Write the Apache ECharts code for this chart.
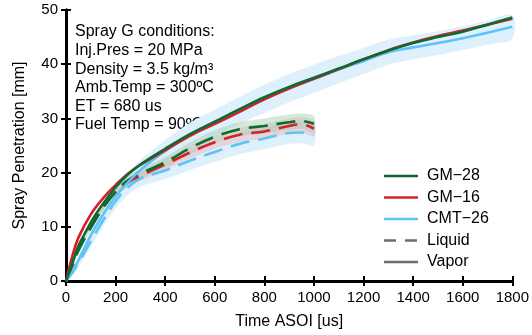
<!DOCTYPE html>
<html>
<head>
<meta charset="utf-8">
<script src="https://cdn.jsdelivr.net/npm/echarts@6/dist/echarts.min.js"></script>
<style>html,body{margin:0;padding:0;background:#fff}#c{width:532px;height:335px}</style>
</head>
<body>
<div id="c"></div>
<script>
const vaporTimes = [0,25,50,100,150,200,250,300,400,500,600,700,800,900,1000,1100,1200,1300,1400,1500,1600,1700,1800];
const gm28Vapor = [0,3.2,6.3,10.8,14.3,17.3,19.7,21.5,24.4,27.1,29.4,31.7,33.9,35.8,37.5,39.2,40.9,42.5,43.9,45.0,46.0,47.3,48.6];
const gm16Vapor = [0,4.5,8.0,12.3,15.3,17.7,19.8,21.4,24.1,26.8,29.0,31.2,33.5,35.5,37.3,39.1,40.9,42.6,44.0,45.2,46.2,47.3,48.4];
const cmtVapor  = [0,1.6,3.8,8.4,12.3,15.6,18.2,20.5,24.0,27.0,29.2,31.5,33.6,35.6,37.3,39.0,40.6,42.2,43.1,43.9,44.8,45.8,46.9];
const cmtVaporSpread = [0,0.5,0.8,1.0,1.2,1.4,1.6,1.8,2.0,2.2,2.4,2.5,2.6,2.6,2.6,2.5,2.4,2.3,2.2,2.2,2.2,2.2,2.2];

const liquidTimes = [0,25,50,100,150,200,250,300,400,500,600,700,800,900,950,1000];
const gm28Liquid = [0,2.7,5.6,9.8,13.5,16.5,18.6,19.8,21.9,24.5,26.6,28.0,28.6,29.3,29.5,29.0];
const gm16Liquid = [0,3.2,6.5,10.3,13.8,16.3,18.2,19.4,21.5,23.7,25.6,27.0,27.6,28.6,28.9,28.1];
const cmtLiquid  = [0,1.5,3.3,7.3,11.2,14.7,17.3,18.9,20.4,22.2,23.8,25.3,26.3,27.3,27.4,27.1];
const liquidSpread = [0,0.3,0.4,0.5,0.6,0.7,0.8,0.9,1.0,1.1,1.2,1.3,1.4,1.4,1.4,1.4];
const cmtLiquidSpread = [0,0.5,0.8,1.0,1.2,1.3,1.4,1.5,1.6,1.7,1.8,1.9,2.0,2.0,2.0,2.0];

const xTicks = [0,200,400,600,800,1000,1200,1400,1600,1800];
const yTicks = [0,10,20,30,40,50];
const conditions = ['Spray G conditions:','Inj.Pres = 20 MPa','Density = 3.5 kg/m\u00B3','Amb.Temp = 300\u00BAC','ET = 680 us','Fuel Temp = 90\u00BAC'];
const legendNames = ['GM\u221228','GM\u221216','CMT\u221226','Liquid','Vapor'];

const FONT = 'Liberation Sans, Arial, Helvetica, sans-serif';
const GREEN = '#0d6b30', RED = '#d2202c', BLUE = '#5ec3f7', GRAY = '#6e6e6e';
const legendColors = [GREEN, RED, BLUE, GRAY, GRAY];
const legendDashed = [false, false, false, true, false];

function pairs(ts, vs){ return ts.slice(0, vs.length).map((t,i)=>[t, vs[i]]); }

function band(ts, mid, spread, color){
  return {
    type: 'custom', silent: true, z: 1, xAxisIndex: 0, yAxisIndex: 0,
    data: [[ts[0], mid[0]]],
    renderItem: function(params, api){
      const up = [], lo = [];
      for (let i = 0; i < spread.length; i++){
        up.push(api.coord([ts[i], mid[i] + spread[i]]));
        lo.push(api.coord([ts[i], mid[i] - spread[i]]));
      }
      const pts = up.concat(lo.reverse());
      return { type: 'polygon', shape: { points: pts, smooth: 0.3 }, style: { fill: color } };
    }
  };
}

function line(name, data, color, dashed){
  return {
    name: name, type: 'line', data: data, showSymbol: false, symbol: 'none', smooth: 0.4,
    z: dashed ? 3 : 4,
    lineStyle: { color: color, width: 2.6, type: dashed ? [19, 9] : 'solid' },
    itemStyle: { color: color }
  };
}

const chart = echarts.init(document.getElementById('c'), null, { renderer: 'canvas' });

const axisCommon = {
  type: 'value',
  axisLine: { show: true, lineStyle: { color: '#000', width: 3 } },
  axisTick: { show: true, inside: true, length: 5, lineStyle: { color: '#000', width: 2 } },
  splitLine: { show: false }
};

const legendGraphics = [];
legendNames.forEach((n, i) => {
  const cy = 176 + i * 21.5;
  legendGraphics.push({
    type: 'line', shape: { x1: 384, y1: cy, x2: 418, y2: cy },
    style: { stroke: legendColors[i], lineWidth: 2.6, lineDash: legendDashed[i] ? [12, 9] : null }
  });
  legendGraphics.push({
    type: 'text', x: 427, y: cy,
    style: { text: n, fill: '#000', font: '16px ' + FONT, textVerticalAlign: 'middle', verticalAlign: 'middle' }
  });
});

chart.setOption({
  animation: false,
  backgroundColor: '#fff',
  textStyle: { fontFamily: FONT },
  grid: { left: 66, right: 17, top: 10, bottom: 52 },
  xAxis: [
    Object.assign({}, axisCommon, {
      min: 0, max: 1800, interval: 200, position: 'bottom',
      name: 'Time ASOI [us]', nameLocation: 'middle', nameGap: 33,
      nameTextStyle: { color: '#000', fontSize: 16, fontFamily: FONT },
      axisLabel: { color: '#000', fontSize: 15, fontFamily: FONT, margin: 9, formatter: v => String(v) }
    }),
    Object.assign({}, axisCommon, {
      min: 0, max: 1800, interval: 200, position: 'top', axisLabel: { show: false }
    })
  ],
  yAxis: [
    Object.assign({}, axisCommon, {
      min: 0, max: 50, interval: 10, position: 'left',
      name: 'Spray Penetration [mm]', nameLocation: 'middle', nameGap: 38,
      nameTextStyle: { color: '#000', fontSize: 16, fontFamily: FONT },
      axisLabel: { color: '#000', fontSize: 15, fontFamily: FONT, margin: 8, formatter: v => String(v) }
    }),
    Object.assign({}, axisCommon, {
      min: 0, max: 50, interval: 10, position: 'right', axisLabel: { show: false }
    })
  ],
  graphic: conditions.map((s, i) => ({
    type: 'text', left: 75, top: 24 + i * 18.6,
    style: { text: s, fill: '#000', font: '16px ' + FONT }
  })).concat(legendGraphics),
  series: [
    band(vaporTimes, cmtVapor, cmtVaporSpread, '#ddf0fc'),
    band(liquidTimes, cmtLiquid, cmtLiquidSpread, '#ddf0fc'),
    band(liquidTimes, gm16Liquid, liquidSpread, 'rgba(240,170,175,0.4)'),
    band(liquidTimes, gm28Liquid, liquidSpread, 'rgba(150,200,165,0.4)'),
    line('CMT\u221226', pairs(vaporTimes, cmtVapor), BLUE, false),
    line('CMT\u221226', pairs(liquidTimes, cmtLiquid), BLUE, true),
    line('GM\u221216', pairs(vaporTimes, gm16Vapor), RED, false),
    line('GM\u221216', pairs(liquidTimes, gm16Liquid), RED, true),
    line('GM\u221228', pairs(vaporTimes, gm28Vapor), GREEN, false),
    line('GM\u221228', pairs(liquidTimes, gm28Liquid), GREEN, true)
  ]
});
</script>
</body>
</html>
